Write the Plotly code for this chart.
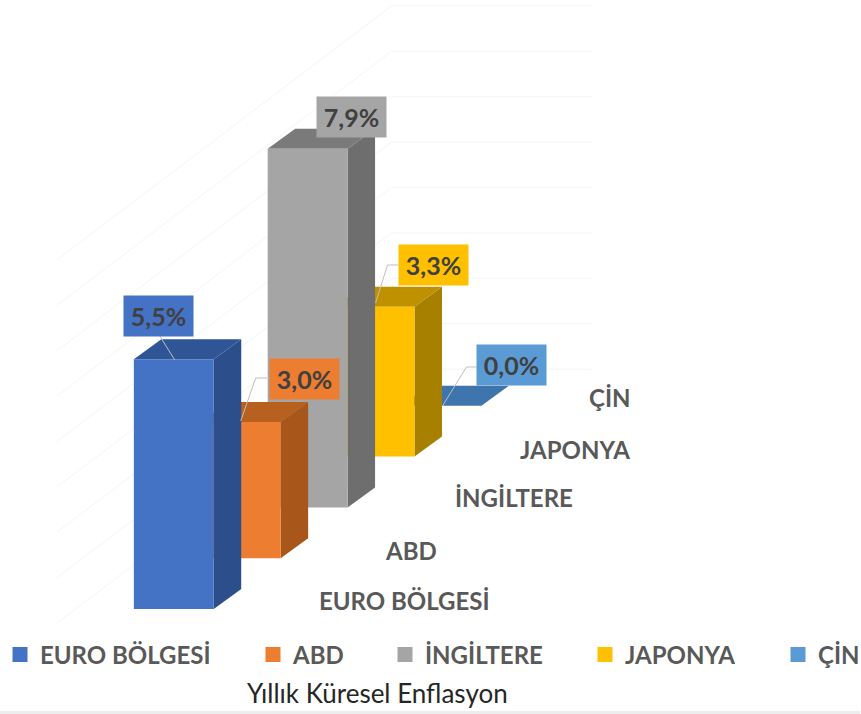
import plotly.graph_objects as go

# ---- data ----
categories = ["EURO BÖLGESİ", "ABD", "İNGİLTERE", "JAPONYA", "ÇİN"]
values = [5.5, 3.0, 7.9, 3.3, 0.0]
grid_values = [1, 2, 3, 4, 5, 6, 7, 8, 9]
chart_title = "Yıllık Küresel Enflasyon"

# ---- styles ----
front_colors = ["#4472C4", "#ED7D31", "#A5A5A5", "#FFC000", "#5B9BD5"]
top_colors = ["#2F5597", "#B8601F", "#7A7A7A", "#BF9000", "#3F75AD"]
side_colors = ["#2C4F8C", "#A8561A", "#6E6E6E", "#A88000", "#3F75AD"]
FONT = "Lato"
W, H = 861, 714

# ---- projection (one bar width = 80 px, one percent = 45.4 px) ----
PX_X, PX_Y = 80.0, 45.4
ORIGIN_X, ORIGIN_Y = 134.0, 609.0
STEP_X, STEP_Y = 67.0 / PX_X, 50.8 / PX_Y     # shift from one series row to the next
BAR_DX, BAR_DY = 27.5 / PX_X, 20.0 / PX_Y     # visible depth of one bar
x_range = [-ORIGIN_X / PX_X, (W - ORIGIN_X) / PX_X]
y_range = [-(H - ORIGIN_Y) / PX_Y, ORIGIN_Y / PX_Y]
WALL_X, WALL_Y = (392 - ORIGIN_X) / PX_X, (ORIGIN_Y - 414.5) / PX_Y
WALL_END = (592 - ORIGIN_X) / PX_X


def paper(px, py):
    return px / W, 1 - py / H


fig = go.Figure()


def face(xs, ys, color):
    fig.add_trace(go.Scatter(x=xs + xs[:1], y=ys + ys[:1], mode="lines", fill="toself",
                             fillcolor=color, line=dict(width=0), showlegend=False,
                             hoverinfo="skip"))


# walls
for v in grid_values:
    fig.add_trace(go.Scatter(
        x=[WALL_X - 5 * STEP_X, WALL_X, WALL_END],
        y=[WALL_Y + v - 5 * STEP_Y, WALL_Y + v, WALL_Y + v],
        mode="lines", line=dict(color="#F4F4F4", width=1),
        showlegend=False, hoverinfo="skip"))

# bars, back row first
for i in reversed(range(len(categories))):
    x0 = i * STEP_X
    y0 = i * STEP_Y
    v = values[i]
    if v > 0:
        face([x0 + 1, x0 + 1 + BAR_DX, x0 + 1 + BAR_DX, x0 + 1],
             [y0, y0 + BAR_DY, y0 + v + BAR_DY, y0 + v], side_colors[i])
    face([x0, x0 + 1, x0 + 1 + BAR_DX, x0 + BAR_DX],
         [y0 + v, y0 + v, y0 + v + BAR_DY, y0 + v + BAR_DY], top_colors[i])
    if v > 0:
        face([x0, x0 + 1, x0 + 1, x0], [y0, y0, y0 + v, y0 + v], front_colors[i])

# legend: one legend box per entry, so the uneven spacing can be kept
legend_px = [0, 253, 385, 585, 779]
legend_entry_px = [178, 60, 128, 120, 38]
layout_legends = {}
for i, name in enumerate(categories):
    key = "legend" if i == 0 else f"legend{i + 1}"
    fig.add_trace(go.Scatter(x=[None], y=[None], mode="markers", name=name,
                             marker=dict(symbol="square", size=15, color=front_colors[i]),
                             legend=key, showlegend=True, hoverinfo="skip"))
    lx, ly = paper(legend_px[i], 655)
    layout_legends[key] = dict(x=lx, y=ly, xanchor="left", yanchor="middle",
                               orientation="h",
                               bgcolor="rgba(0,0,0,0)", borderwidth=0,
                               entrywidth=legend_entry_px[i], entrywidthmode="pixels",
                               font=dict(family=FONT, size=24, color="#595959", weight=700))

# data labels
label_centers = [(159, 316), (305, 379), (351.5, 117), (434, 265), (512.5, 365)]
annotations = []
for i, v in enumerate(values):
    lx, ly = paper(*label_centers[i])
    annotations.append(dict(xref="paper", yref="paper", x=lx, y=ly, showarrow=False,
                            xanchor="center", yanchor="middle",
                            text=f"{v:.1f}%".replace(".", ","), width=67, height=38,
                            bgcolor=front_colors[i], valign="middle", align="center",
                            font=dict(family=FONT, size=25, color="#404040", weight=700)))

# category labels on the floor
cat_centers = [(405, 600), (411, 550), (515, 497), (576, 449), (610, 397)]
for i, name in enumerate(categories):
    lx, ly = paper(*cat_centers[i])
    annotations.append(dict(xref="paper", yref="paper", x=lx, y=ly, showarrow=False, text=name,
                            xanchor="center", yanchor="middle",
                            font=dict(family=FONT, size=24, color="#595959", weight=700)))

# title under the legend
tx, ty = paper(378, 693)
annotations.append(dict(xref="paper", yref="paper", x=tx, y=ty, showarrow=False, text=chart_title,
                        xanchor="center", yanchor="middle",
                        font=dict(family=FONT, size=26, color="#262626")))

# leader lines
leaders = [
    [(175, 360), (160, 336)],
    [(241, 421), (256, 378), (270, 378)],
    [(376, 303), (388, 265), (399, 265)],
    [(443, 406), (467, 367), (477, 367)],
]
shapes = []
for pts in leaders:
    for a, b in zip(pts[:-1], pts[1:]):
        ax, ay = paper(*a)
        bx, by = paper(*b)
        shapes.append(dict(type="line", xref="paper", yref="paper", x0=ax, y0=ay, x1=bx, y1=by,
                           line=dict(color="#BFBFBF", width=1), layer="above"))
# pale band along the bottom edge
bx0, by0 = paper(0, 711)
shapes.append(dict(type="rect", xref="paper", yref="paper", x0=0, x1=1, y0=0, y1=by0,
                   fillcolor="#EDEDED", line=dict(width=0), layer="below"))

fig.update_layout(
    width=W, height=H, margin=dict(l=0, r=0, t=0, b=0),
    paper_bgcolor="white", plot_bgcolor="white",
    xaxis=dict(range=x_range, visible=False, fixedrange=True),
    yaxis=dict(range=y_range, visible=False, fixedrange=True),
    annotations=annotations, shapes=shapes, **layout_legends,
)
fig.write_html("out.html", config={"displayModeBar": False},
               post_script="document.body.style.margin='0';")
